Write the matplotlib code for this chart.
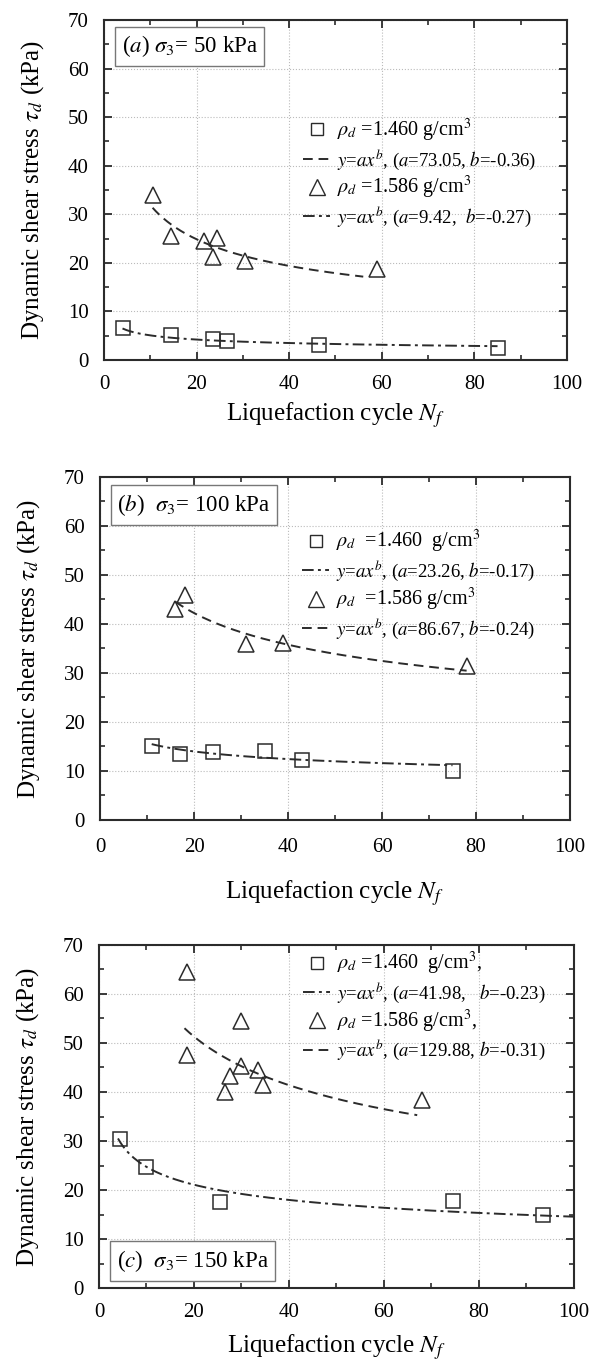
import numpy as np
import matplotlib
matplotlib.use("Agg")
import matplotlib.pyplot as plt
from matplotlib.lines import Line2D
from matplotlib.ticker import MultipleLocator

plt.rcParams['font.family'] = ['Liberation Serif', 'DejaVu Serif']
plt.rcParams['mathtext.fontset'] = 'stix'

# ---- datos ----
# (a) sigma3 = 50 kPa
a_sq_x = [4, 14.5, 23.5, 26.5, 46.5, 85]
a_sq_y = [6.5, 5.2, 4.3, 3.9, 3.0, 2.4]
a_tri_x = [10.5, 14.5, 21.5, 24.5, 23.5, 30.5, 59]
a_tri_y = [34.0, 25.5, 24.5, 25.2, 21.2, 20.3, 18.7]
a_fit_sq = [9.42, -0.27]
a_fit_tri = [73.05, -0.36]
a_rng_sq = [4, 85]
a_rng_tri = [10.5, 56]

# (b) sigma3 = 100 kPa
b_sq_x = [11, 17, 24, 35, 43, 75]
b_sq_y = [15.1, 13.5, 13.8, 14.0, 12.2, 10.0]
b_tri_x = [16, 18, 31, 39, 78]
b_tri_y = [43.0, 46.0, 36.0, 36.2, 31.4]
b_fit_sq = [23.26, -0.17]
b_fit_tri = [86.67, -0.24]
b_rng_sq = [11, 75]
b_rng_tri = [16, 78]

# (c) sigma3 = 150 kPa
c_sq_x = [4.5, 10, 25.5, 74.5, 93.5]
c_sq_y = [30.5, 24.7, 17.5, 17.8, 15.0]
c_tri_x = [18.5, 18.5, 26.5, 27.5, 30, 30, 33.5, 34.5, 68]
c_tri_y = [64.5, 47.5, 40.0, 43.3, 45.3, 54.5, 44.5, 41.5, 38.3]
c_fit_sq = [41.98, -0.23]
c_fit_tri = [129.88, -0.31]
c_rng_sq = [4, 100]
c_rng_tri = [18, 67]

etiquetas = {
    'a': [r'$\rho_d$ =1.460 g/cm$^3$',
          r'$y$=$ax^b$, ($a$=73.05, $b$=-0.36)',
          r'$\rho_d$ =1.586 g/cm$^3$',
          r'$y$=$ax^b$, ($a$=9.42,  $b$=-0.27)'],
    'b': [r'$\rho_d$  =1.460  g/cm$^3$',
          r'$y$=$ax^b$, ($a$=23.26, $b$=-0.17)',
          r'$\rho_d$  =1.586 g/cm$^3$',
          r'$y$=$ax^b$, ($a$=86.67, $b$=-0.24)'],
    'c': [r'$\rho_d$ =1.460  g/cm$^3$,',
          r'$y$=$ax^b$, ($a$=41.98,   $b$=-0.23)',
          r'$\rho_d$ =1.586 g/cm$^3$,',
          r'$y$=$ax^b$, ($a$=129.88, $b$=-0.31)'],
}
titulos = {
    'a': r'($a$) $\sigma_3$= 50 kPa',
    'b': r'($b$)  $\sigma_3$= 100 kPa',
    'c': r'($c$)  $\sigma_3$= 150 kPa',
}

negro = '#2b2b2b'
guion = (0, (5, 3))
guion_punto = (0, (6, 2.2, 1.5, 2.2))

fig = plt.figure(figsize=(5.97, 13.65), dpi=100)

paneles = [
    # clave, rect, datos, estilo leyenda (fila 2, fila 4), ancla leyenda, caja titulo, pads
    ('a', [0.1742, 0.7363, 0.7755, 0.2491],
     (a_sq_x, a_sq_y, a_tri_x, a_tri_y, a_fit_sq, a_fit_tri, a_rng_sq, a_rng_tri),
     (guion, guion_punto), (0.43, 0.715), (0.038, 0.96, 'top'), (11, 4)),
    ('b', [0.1675, 0.3993, 0.7873, 0.2513],
     (b_sq_x, b_sq_y, b_tri_x, b_tri_y, b_fit_sq, b_fit_tri, b_rng_sq, b_rng_tri),
     (guion_punto, guion), (0.43, 0.85), (0.037, 0.955, 'top'), (13, 15)),
    ('c', [0.1658, 0.0564, 0.7956, 0.2513],
     (c_sq_x, c_sq_y, c_tri_x, c_tri_y, c_fit_sq, c_fit_tri, c_rng_sq, c_rng_tri),
     (guion_punto, guion), (0.43, 0.985), (0.037, 0.04, 'bottom'), (11, 7)),
]

for clave, rect, datos, estilos, ancla, caja, pads in paneles:
    sq_x, sq_y, tri_x, tri_y, fit_sq, fit_tri, rng_sq, rng_tri = datos
    ax = fig.add_axes(rect)

    # curvas de ajuste y = a x^b
    xs = np.linspace(rng_sq[0], rng_sq[1], 200)
    ax.plot(xs, fit_sq[0] * xs ** fit_sq[1], color=negro, lw=1.4, ls=guion_punto)
    xt = np.linspace(rng_tri[0], rng_tri[1], 200)
    ax.plot(xt, fit_tri[0] * xt ** fit_tri[1], color=negro, lw=1.4, ls=guion)

    ax.plot(sq_x, sq_y, ls='none', marker='s', ms=9.5, mfc='none', mec=negro, mew=1.1)
    ax.plot(tri_x, tri_y, ls='none', marker='^', ms=12, mfc='none', mec=negro, mew=1.1)

    ax.set_xlim(0, 100)
    ax.set_ylim(0, 70)
    ax.xaxis.set_major_locator(MultipleLocator(20))
    ax.xaxis.set_minor_locator(MultipleLocator(10))
    ax.yaxis.set_major_locator(MultipleLocator(10))
    ax.yaxis.set_minor_locator(MultipleLocator(5))
    ax.tick_params(which='both', direction='in', top=True, right=True, color=negro)
    ax.tick_params(which='major', length=6, width=1.3, labelsize=15)
    ax.tick_params(axis='x', which='major', pad=pads[0])
    ax.tick_params(axis='y', which='major', pad=11)
    ax.tick_params(which='minor', length=3.5, width=1.2)
    for s in ax.spines.values():
        s.set_linewidth(1.5)
        s.set_color(negro)
    ax.grid(True, which='major', ls=':', lw=0.8, color='#bbbbbb')

    ax.set_ylabel(r'Dynamic shear stress $\tau_d$ (kPa)', fontsize=18, labelpad=16)
    ax.set_xlabel(r'Liquefaction cycle $N_f$', fontsize=18, labelpad=pads[1])

    handles = [
        Line2D([], [], ls='none', marker='s', ms=8.5, mfc='none', mec=negro, mew=1.0),
        Line2D([], [], ls=estilos[0], color=negro, lw=1.4),
        Line2D([], [], ls='none', marker='^', ms=11, mfc='none', mec=negro, mew=1.0),
        Line2D([], [], ls=estilos[1], color=negro, lw=1.4),
    ]
    leg = ax.legend(handles, etiquetas[clave], loc='upper left', bbox_to_anchor=ancla,
                    frameon=False, fontsize=13.5, handlelength=1.45, handletextpad=0.35,
                    labelspacing=0.15, borderpad=0, borderaxespad=0)
    textos = leg.get_texts()
    textos[0].set_fontsize(14.5)
    textos[2].set_fontsize(14.5)

    ax.text(caja[0], caja[1], titulos[clave], transform=ax.transAxes, fontsize=16.5,
            va=caja[2], ha='left',
            bbox=dict(boxstyle='square,pad=0.3', fc='white', ec='#777777', lw=1.0))

fig.savefig('out.png', dpi=100)
plt.close(fig)
